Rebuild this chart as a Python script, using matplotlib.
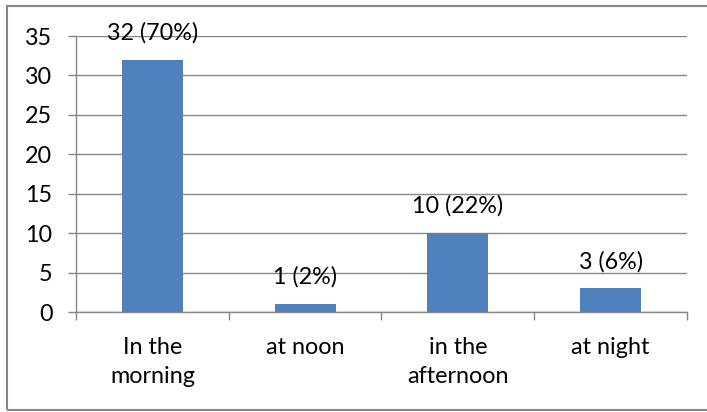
import numpy as np
import matplotlib
matplotlib.use("Agg")
import matplotlib.pyplot as plt
import matplotlib.patches as patches

# Chart data
categories = ["In the\nmorning", "at noon", "in the\nafternoon", "at night"]
counts = [32, 1, 10, 3]
percents = [70, 2, 22, 6]
y_ticks = [0, 5, 10, 15, 20, 25, 30, 35]

plt.rcParams['font.family'] = ['Lato', 'DejaVu Sans']
FS = 16.8

fig = plt.figure(figsize=(7.07, 4.12), dpi=100)
ax = fig.add_axes([0.1075, 0.2427, 0.8642, 0.6699])

x = np.arange(len(categories))
ax.bar(x, counts, width=0.4, color="#4F81BD", zorder=3)

# Data labels
for xi, c, p in zip(x, counts, percents):
    ax.annotate(f"{c} ({p}%)", (xi, c), xytext=(0, 14.5), textcoords="offset points",
                ha="center", va="baseline", fontsize=FS, color="black", zorder=4,
                annotation_clip=False)

ax.set_xlim(-0.5, len(categories) - 0.5)
ax.set_ylim(0, 35)
ax.set_yticks(y_ticks)
ax.set_yticklabels([str(t) for t in y_ticks], fontsize=FS)
ax.yaxis.grid(True, color="#868686", linewidth=1.0, zorder=0)
ax.set_axisbelow(True)

# category ticks between groups, labels centred
ax.set_xticks(np.arange(-0.5, len(categories), 1.0))
ax.set_xticklabels([])
ax.set_xticks(x, minor=True)
ax.set_xticklabels(categories, minor=True, fontsize=FS, linespacing=1.45)
ax.tick_params(axis="x", which="minor", length=0, pad=18)
ax.tick_params(axis="x", which="major", direction="out", length=6, color="#868686", width=1)
ax.tick_params(axis="y", direction="out", length=6, color="#868686", width=1, pad=11)

for side in ["top", "right"]:
    ax.spines[side].set_visible(False)
for side in ["left", "bottom"]:
    ax.spines[side].set_color("#868686")
    ax.spines[side].set_linewidth(1.0)

# outer chart border
fig.patches.append(patches.Rectangle((7 / 707, 2 / 412), 1.2, 1 - 8 / 412,
                                     transform=fig.transFigure, fill=False,
                                     edgecolor="#878787", linewidth=1.5))

fig.savefig("out.png", dpi=100)
